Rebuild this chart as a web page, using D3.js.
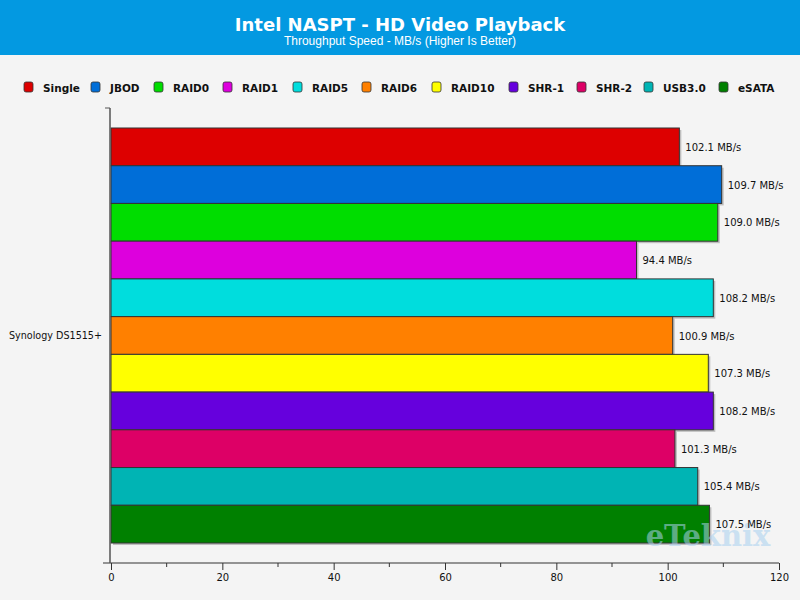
<!DOCTYPE html>
<html><head><meta charset="utf-8">
<script src="https://cdn.jsdelivr.net/npm/d3@7"></script>
<style>body{margin:0;background:#f4f4f4}svg{display:block}</style>
</head><body>
<script>
const categories = ["Synology DS1515+"];
const series = ["Single","JBOD","RAID0","RAID1","RAID5","RAID6","RAID10","SHR-1","SHR-2","USB3.0","eSATA"];
const values = [102.1,109.7,109.0,94.4,108.2,100.9,107.3,108.2,101.3,105.4,107.5];
const colors = ["#dd0000","#006ed8","#00dd00","#dd00dd","#00dddd","#ff8000","#ffff00","#6600dd","#dd0066","#00b4b4","#008000"];
const xTicks = [0,20,40,60,80,100,120];
const title = "Intel NASPT - HD Video Playback";
const subtitle = "Throughput Speed - MB/s (Higher Is Better)";
const unit = " MB/s";

const W = 800, H = 600;
const svg = d3.select("body").append("svg").attr("width", W).attr("height", H);
svg.append("rect").attr("width", W).attr("height", H).attr("fill", "#f4f4f4");
svg.append("rect").attr("width", W).attr("height", 55).attr("fill", "#0399e1");
svg.append("text").attr("x", 400).attr("y", 31).attr("text-anchor", "middle")
  .attr("font-family", "DejaVu Sans").attr("font-weight", "bold").attr("font-size", 18)
  .attr("fill", "#fff").text(title);
svg.append("text").attr("x", 400).attr("y", 45).attr("text-anchor", "middle")
  .attr("font-family", "Liberation Sans").attr("font-size", 12)
  .attr("fill", "#fff").text(subtitle);

// legend
const legendX = [24,91,154,223,293,362,432,509,577,644,719];
const lg = svg.append("g");
series.forEach((s, i) => {
  const g = lg.append("g").attr("transform", `translate(${legendX[i]},82)`);
  g.append("rect").attr("width", 9).attr("height", 10).attr("rx", 2)
    .attr("fill", colors[i]).attr("stroke", "#333").attr("stroke-width", 0.8);
  g.append("text").attr("x", 19).attr("y", 9.5).attr("font-family", "DejaVu Sans")
    .attr("font-weight", "bold").attr("font-size", 10.5).attr("fill", "#111").text(s);
});

const x = d3.scaleLinear().domain([0, 120]).range([111, 779]);
const yCat = d3.scaleBand().domain(categories).range([108, 563]);
const ySer = d3.scaleBand().domain(series).range([0, yCat.bandwidth()]).paddingOuter(0.53);

const plot = svg.append("g");
const cg = plot.append("g").attr("transform", `translate(0,${yCat(categories[0])})`);
cg.selectAll("rect.sh").data(values).join("rect").attr("class", "sh")
  .attr("x", x(0) + 2).attr("y", (d, i) => ySer(series[i]) + 2)
  .attr("width", d => x(d) - x(0)).attr("height", ySer.bandwidth())
  .attr("fill", "#999").attr("opacity", 0.6);
cg.selectAll("rect.bar").data(values).join("rect").attr("class", "bar")
  .attr("x", x(0)).attr("y", (d, i) => ySer(series[i]))
  .attr("width", d => x(d) - x(0)).attr("height", ySer.bandwidth())
  .attr("fill", (d, i) => colors[i]).attr("stroke", "#333").attr("stroke-width", 1);

// watermark (over bars, under labels)
svg.append("text").attr("x", 708).attr("y", 546).attr("text-anchor", "middle")
  .attr("font-family", "DejaVu Serif").attr("font-weight", "bold").attr("font-size", 29)
  .attr("fill", "#a9d0ef").attr("opacity", 0.55).text("eTeknix");

const lbl = svg.append("g").attr("transform", `translate(0,${yCat(categories[0])})`);
lbl.selectAll("text.val").data(values).join("text").attr("class", "val")
  .attr("x", d => x(d) + 6).attr("y", (d, i) => ySer(series[i]) + ySer.bandwidth() / 2 + 4)
  .attr("font-family", "DejaVu Sans").attr("font-size", 10).attr("fill", "#111")
  .text(d => d.toFixed(1) + unit);

// x axis
const xAxis = d3.axisBottom(x).tickValues(xTicks).tickSize(7).tickPadding(4).tickFormat(d3.format("d"));
const ax = svg.append("g").attr("transform", "translate(0,563)").call(xAxis);
ax.select(".domain").remove();
ax.append("line").attr("x1", 103).attr("x2", 779).attr("stroke", "#333");
ax.selectAll(".tick line").attr("stroke", "#333");
ax.selectAll(".tick text").attr("font-family", "DejaVu Sans").attr("font-size", 10).attr("fill", "#111");
const minor = d3.range(10, 120, 20);
ax.selectAll("line.minor").data(minor).join("line").attr("class", "minor")
  .attr("x1", d => x(d)).attr("x2", d => x(d)).attr("y1", 0).attr("y2", 4).attr("stroke", "#333");

// y axis
const yAxis = d3.axisLeft(yCat).tickSize(0).tickPadding(8);
const ay = svg.append("g").attr("transform", "translate(110,0)").call(yAxis);
ay.select(".domain").remove();
ay.append("line").attr("y1", 108).attr("y2", 563).attr("stroke", "#555").attr("stroke-width", 1.5);
ay.append("line").attr("x1", -5).attr("x2", 0).attr("y1", 108).attr("y2", 108).attr("stroke", "#555");
ay.selectAll(".tick text").attr("font-family", "DejaVu Sans").attr("font-size", 9.6).attr("fill", "#111");
</script>
</body></html>
